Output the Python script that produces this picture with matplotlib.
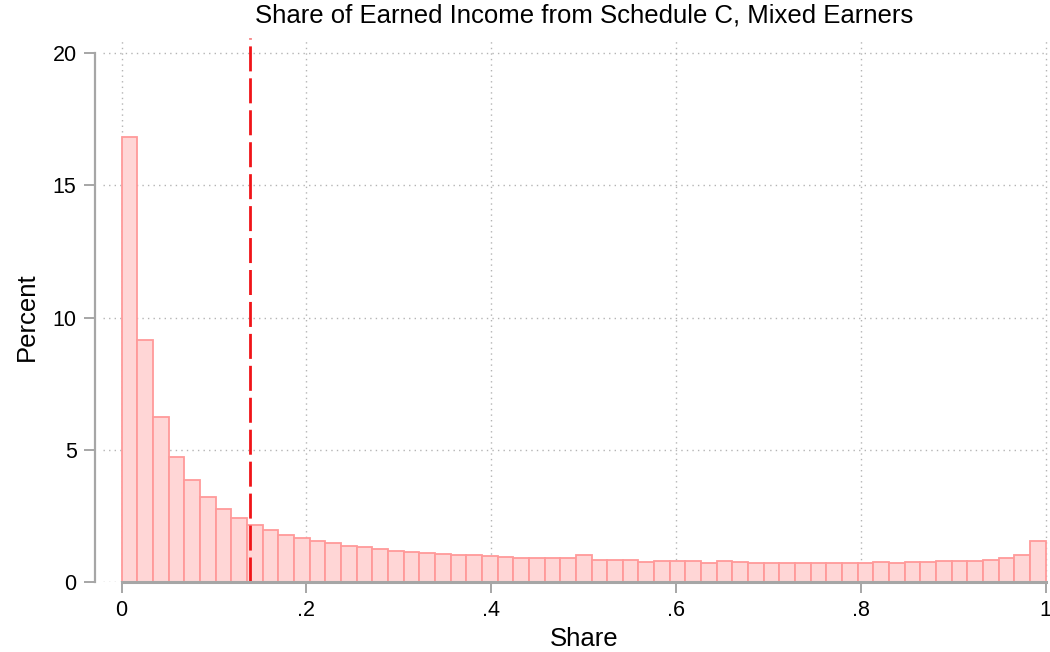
import numpy as np
import matplotlib
matplotlib.use("Agg")
import matplotlib.pyplot as plt

# Histogram of Schedule C share (59 equal bins on [0, 1]), percent per bin
n_bins = 59
percent = [
    16.84, 9.15, 6.24, 4.73, 3.85, 3.21, 2.75, 2.42, 2.14, 1.95,
    1.79, 1.67, 1.56, 1.47, 1.36, 1.31, 1.25, 1.19, 1.14, 1.10,
    1.06, 1.02, 1.01, 0.97, 0.93, 0.92, 0.91, 0.89, 0.89, 1.03,
    0.83, 0.83, 0.83, 0.77, 0.79, 0.79, 0.79, 0.72, 0.79, 0.77,
    0.73, 0.72, 0.73, 0.73, 0.73, 0.73, 0.73, 0.73, 0.75, 0.73,
    0.75, 0.75, 0.78, 0.78, 0.80, 0.84, 0.89, 1.02, 1.56,
]
cutoff = 0.139

x_ticks = [0, 0.2, 0.4, 0.6, 0.8, 1.0]
x_ticklabels = ["0", ".2", ".4", ".6", ".8", "1"]
y_ticks = [0, 5, 10, 15, 20]

plt.rcParams["font.family"] = ["Liberation Sans", "DejaVu Sans"]

edges = np.linspace(0, 1, n_bins + 1)
width = edges[1] - edges[0]

fig = plt.figure(figsize=(10.5, 6.52), dpi=100)
ax = fig.add_axes([103 / 1050, 70 / 652, 945 / 1050, 544 / 652])

ax.bar(edges[:-1], percent, width=width, align="edge",
       color="#ffd6d6", edgecolor="#ff9a9a", linewidth=1.3, zorder=2)
ax.axvline(cutoff, color="#f01418", linestyle=(0, (9, 2.5)), linewidth=2.0, zorder=3)

ax.set_xlim(-0.0202, 1.0025)
ax.set_ylim(0, 20.57)

# grid
ax.set_axisbelow(True)
ax.grid(True, color="#b4b4b4", linestyle=(0, (1, 3)), linewidth=1.0)

# stata-like axes
for side in ["top", "right"]:
    ax.spines[side].set_visible(False)
ax.spines["left"].set_position(("outward", 6))
ax.spines["left"].set_bounds(0, 20)
ax.spines["left"].set_color("#a6a6a6")
ax.spines["left"].set_linewidth(1.6)
ax.spines["bottom"].set_bounds(0, 1)
ax.spines["bottom"].set_color("#a6a6a6")
ax.spines["bottom"].set_linewidth(2.2)
ax.spines["bottom"].set_zorder(4)

ax.set_xticks(x_ticks)
ax.set_xticklabels(x_ticklabels)
ax.set_yticks(y_ticks)
ax.tick_params(axis="both", length=8, width=1.4, color="#a6a6a6",
               labelsize=15.5, labelcolor="black", pad=5)

ax.set_title("Share of Earned Income from Schedule C, Mixed Earners",
             fontsize=18.5, x=0.509, pad=11)
ax.set_xlabel("Share", fontsize=18.5)
ax.set_ylabel("Percent", fontsize=18.5)
ax.xaxis.set_label_coords(0.509, -0.082)
ax.yaxis.set_label_coords(-0.068, 0.487)

fig.savefig("out.png", dpi=100)
